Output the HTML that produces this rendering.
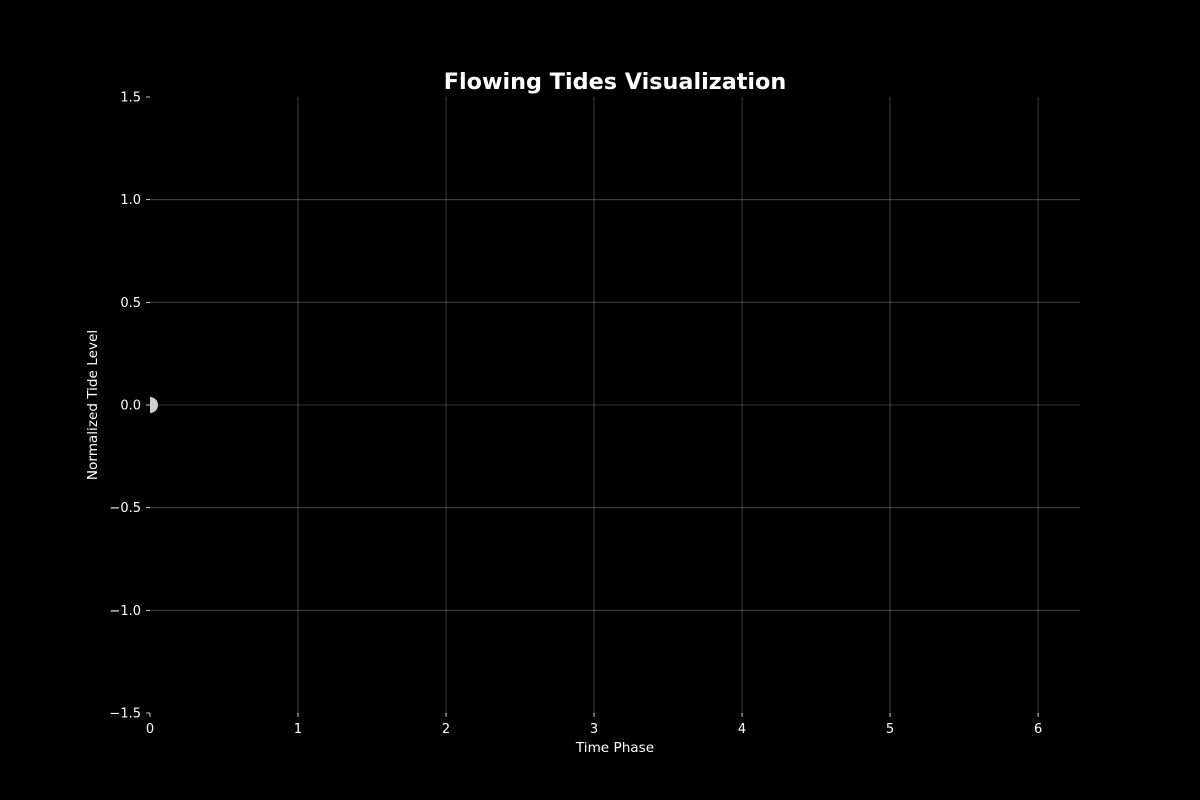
<!DOCTYPE html>
<html><head><meta charset="utf-8"><style>
body{margin:0;background:#000;}
svg{display:block;font-family:"DejaVu Sans","Liberation Sans",sans-serif;}
</style></head><body>
<svg id="chart" width="1200" height="800" viewBox="0 0 1200 800">
<rect width="1200" height="800" fill="#000"/>
<text x="615" y="89" text-anchor="middle" fill="#fff" font-size="22.3" font-weight="bold">Flowing Tides Visualization</text>
<g id="grid"></g><g id="ticks"></g>
<defs><clipPath id="plot"><rect x="150" y="97" width="930" height="616"/></clipPath></defs>
<g id="marks" clip-path="url(#plot)"></g>
<text x="615" y="752" text-anchor="middle" fill="#fff" font-size="13.6">Time Phase</text>
<text x="97" y="405" text-anchor="middle" fill="#fff" font-size="13.6" transform="rotate(-90 97 405)">Normalized Tide Level</text>
</svg>
<script>
const xTicks=[0,1,2,3,4,5,6];
const yTicks=[-1.5,-1.0,-0.5,0.0,0.5,1.0,1.5];
const pointX=[0];
const pointY=[0];
const X0=150,X1=1080,Y0=713,Y1=97,xMax=2*Math.PI;
const sx=v=>X0+v/xMax*(X1-X0);
const sy=v=>Y0-(v+1.5)/3*(Y0-Y1);
const NS="http://www.w3.org/2000/svg";
function mk(t,a,p){const e=document.createElementNS(NS,t);for(const k in a)e.setAttribute(k,a[k]);p.appendChild(e);return e;}
const grid=document.getElementById('grid'),ticks=document.getElementById('ticks'),marks=document.getElementById('marks');
xTicks.forEach(v=>{const x=sx(v);
 if(v>0){const g=mk('line',{x1:x,x2:x,y1:Y1,y2:Y0,stroke:'#fff','stroke-opacity':0.3,'stroke-width':0.8},grid);
 
 }
 const t=mk('line',{x1:x,x2:x,y1:Y0,y2:Y0+4,stroke:'#fff','stroke-width':0.8},ticks);
 
 
 const l=mk('text',{x:x,y:Y0+20,'text-anchor':'middle',fill:'#fff','font-size':13},ticks);l.textContent=v;
 
 });
yTicks.forEach(v=>{const y=sy(v);
 if(v>-1.5&&v<1.5){const g=mk('line',{x1:X0,x2:X1,y1:y,y2:y,stroke:'#fff','stroke-opacity':0.3,'stroke-width':0.8},grid);
 
 }
 const t=mk('line',{x1:X0-4,x2:X0,y1:y,y2:y,stroke:'#fff','stroke-width':0.8},ticks);
 
 
 const l=mk('text',{x:X0-9,y:y+4.5,'text-anchor':'end',fill:'#fff','font-size':13},ticks);l.textContent=(v<0?'\u2212':'')+Math.abs(v).toFixed(1);
 
 });
pointX.forEach((v,i)=>{const c=mk('circle',{cx:sx(v),cy:sy(pointY[i]),r:8,fill:'#d0d0d0'},marks);
 
 });
</script>
</body></html>
